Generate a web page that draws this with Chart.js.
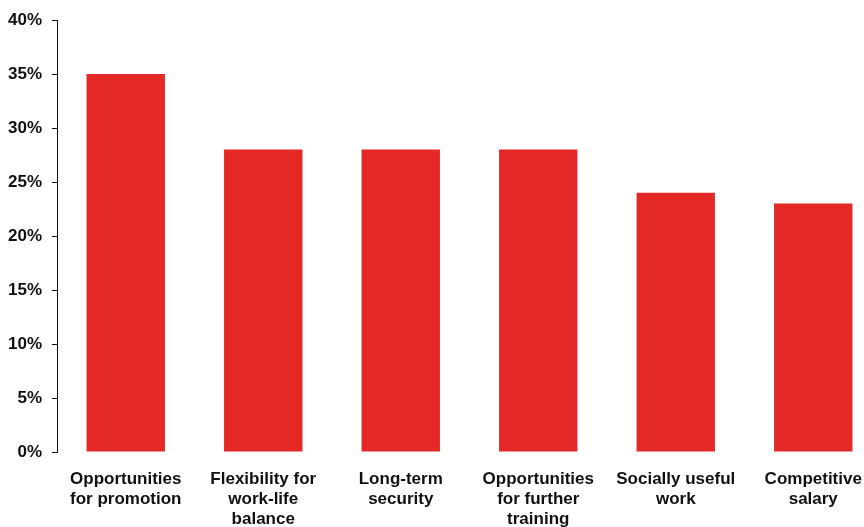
<!DOCTYPE html>
<html>
<head>
<meta charset="utf-8">
<title>Job attributes</title>
<script src="https://cdn.jsdelivr.net/npm/chart.js@4/dist/chart.umd.min.js"></script>
<style>
  html, body { margin: 0; padding: 0; background: #fff; overflow: hidden; }
  #wrap { width: 864px; height: 527px; overflow: hidden; }
</style>
</head>
<body>
<div id="wrap"><canvas id="chart" width="890" height="527"></canvas></div>
<script>
// categories (multi-line labels) and share of respondents, %
const categories = [
  ['Opportunities', 'for promotion'],
  ['Flexibility for', 'work-life', 'balance'],
  ['Long-term', 'security'],
  ['Opportunities', 'for further', 'training'],
  ['Socially useful', 'work'],
  ['Competitive', 'salary'],
];
const shares = [35, 28, 28, 28, 24, 23];
const yTicks = [0, 5, 10, 15, 20, 25, 30, 35, 40];

const RED = '#E42826';
const INK = '#111';
const font = { family: '"Liberation Sans", Arial, sans-serif', size: 17, weight: 'bold', lineHeight: 1.18 };

new Chart(document.getElementById('chart'), {
  type: 'bar',
  data: {
    labels: categories,
    datasets: [{
      data: shares,
      backgroundColor: RED,
      borderWidth: 0,
      categoryPercentage: 1,
      barPercentage: 0.57,
    }],
  },
  options: {
    responsive: false,
    animation: false,
    layout: { padding: { top: 19, right: 8, left: 0, bottom: 0 } },
    plugins: { legend: { display: false }, tooltip: { enabled: false } },
    scales: {
      x: {
        grid: { display: false, drawTicks: false },
        border: { display: false },
        ticks: { color: INK, font, padding: 17, maxRotation: 0, autoSkip: false },
        afterFit: (s) => { s.height = 75; },
      },
      y: {
        min: yTicks[0],
        max: yTicks[yTicks.length - 1],
        afterBuildTicks: (s) => { s.ticks = yTicks.map((v) => ({ value: v })); },
        grid: { drawOnChartArea: false, drawTicks: true, tickLength: 5, color: INK, lineWidth: 1 },
        border: { display: true, color: INK, width: 1 },
        ticks: { color: INK, font, padding: 10, callback: (v) => v + '%' },
        afterFit: (s) => { s.width = 57; },
      },
    },
  },
});
</script>
</body>
</html>
